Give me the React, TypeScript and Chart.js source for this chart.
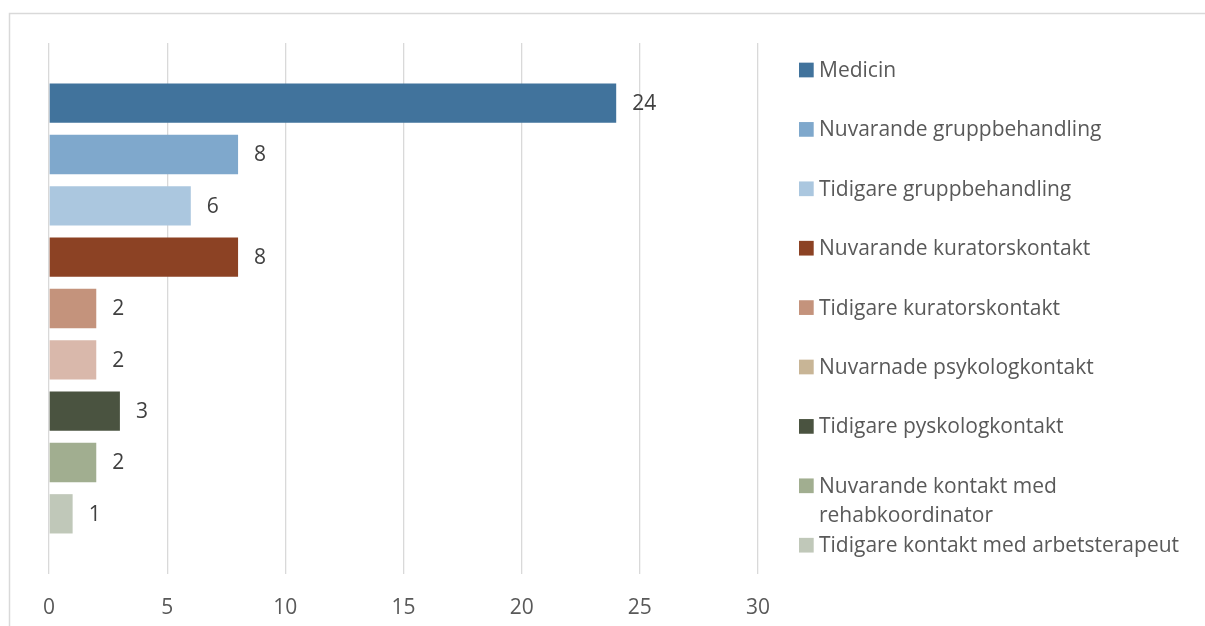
import React, { useEffect, useRef } from 'react';
import { Chart, registerables } from 'chart.js';

Chart.register(...registerables);

const categories = [''];
const seriesNames = [
  'Medicin',
  'Nuvarande gruppbehandling',
  'Tidigare gruppbehandling',
  'Nuvarande kuratorskontakt',
  'Tidigare kuratorskontakt',
  'Nuvarnade psykologkontakt',
  'Tidigare pyskologkontakt',
  'Nuvarande kontakt med rehabkoordinator',
  'Tidigare kontakt med arbetsterapeut',
];
const seriesValues = [24, 8, 6, 8, 2, 2, 3, 2, 1];
const barColors = [
  '#41739c',
  '#7fa8cc',
  '#abc7df',
  '#8c4224',
  '#c4937c',
  '#d9b8ab',
  '#4a5340',
  '#a1ae90',
  '#c0c8b9',
];
const legendColors = [
  '#41739c',
  '#7fa8cc',
  '#abc7df',
  '#8c4224',
  '#c4937c',
  '#c8b596',
  '#4a5340',
  '#a1ae90',
  '#c0c8b9',
];
const xMin = 0;
const xMax = 30;
const xStep = 5;

const FONT_FAMILY = "'Open Sans', sans-serif";
const FONT_SIZE = 21;
const TEXT_COLOR = '#595959';
const LABEL_COLOR = '#404040';

const framePlugin = {
  id: 'frame',
  beforeDraw(chart: any) {
    const ctx = chart.ctx;
    ctx.save();
    ctx.fillStyle = '#ffffff';
    ctx.fillRect(0, 0, chart.width, chart.height);
    ctx.strokeStyle = '#d9d9d9';
    ctx.lineWidth = 1.5;
    ctx.strokeRect(9.5, 13.5, chart.width + 20, chart.height + 20);
    ctx.restore();
  },
};

const valueLabelPlugin = {
  id: 'valueLabels',
  afterDatasetsDraw(chart: any) {
    const ctx = chart.ctx;
    ctx.save();
    ctx.font = `${FONT_SIZE}px ${FONT_FAMILY}`;
    ctx.fillStyle = LABEL_COLOR;
    ctx.textAlign = 'left';
    ctx.textBaseline = 'middle';
    chart.data.datasets.forEach((ds: any, i: number) => {
      const meta = chart.getDatasetMeta(i);
      meta.data.forEach((el: any, j: number) => {
        ctx.fillText(String(ds.data[j]), el.x + 16, el.y + 1);
      });
    });
    ctx.restore();
  },
};

const legendPlugin = {
  id: 'customLegend',
  afterDraw(chart: any) {
    const ctx = chart.ctx;
    const boxX = 799;
    const textX = 819;
    const top = 70;
    const step = 59.4;
    const lineH = 29.7;
    const box = 14.7;
    const maxW = 1200 - textX;
    ctx.save();
    ctx.font = `${FONT_SIZE}px ${FONT_FAMILY}`;
    ctx.textBaseline = 'middle';
    ctx.textAlign = 'left';
    chart.data.datasets.forEach((ds: any, i: number) => {
      const y = top + i * step;
      ctx.fillStyle = legendColors[i];
      ctx.fillRect(boxX, y - box / 2, box, box);
      const words = String(ds.label).split(' ');
      const lines: string[] = [];
      let cur = '';
      words.forEach((w) => {
        const t = cur ? cur + ' ' + w : w;
        if (ctx.measureText(t).width > maxW && cur) {
          lines.push(cur);
          cur = w;
        } else {
          cur = t;
        }
      });
      if (cur) lines.push(cur);
      ctx.fillStyle = TEXT_COLOR;
      lines.forEach((ln, k) => ctx.fillText(ln, textX, y + 1 + k * lineH));
    });
    ctx.restore();
  },
};

export default function App() {
  const ref = useRef<HTMLCanvasElement | null>(null);
  useEffect(() => {
    if (!ref.current) return;
    const chart = new Chart(ref.current, {
      type: 'bar',
      data: {
        labels: categories,
        datasets: seriesNames.map((name, i) => ({
          label: name,
          data: [seriesValues[i]],
          backgroundColor: barColors[i],
          borderWidth: 0,
          categoryPercentage: 0.87,
          barPercentage: 0.766,
        })),
      },
      options: {
        indexAxis: 'y',
        animation: false,
        responsive: false,
        maintainAspectRatio: false,
        layout: { padding: { left: 49, right: 447, top: 43, bottom: 3 } },
        plugins: {
          legend: { display: false },
          tooltip: { enabled: false },
        },
        scales: {
          y: { type: 'category', display: false },
          x: {
            type: 'linear',
            min: xMin,
            max: xMax,
            grid: {
              color: '#d9d9d9',
              lineWidth: 1.3,
              drawTicks: true,
              tickLength: 19.8,
              tickColor: 'rgba(0,0,0,0)',
            },
            border: { display: false },
            ticks: {
              stepSize: xStep,
              padding: 2,
              color: TEXT_COLOR,
              font: { family: FONT_FAMILY, size: FONT_SIZE },
            },
          },
        },
      },
      plugins: [framePlugin, valueLabelPlugin, legendPlugin],
    });
    return () => chart.destroy();
  }, []);
  return (
    <div style={{ position: 'absolute', left: 0, top: 0, width: 1205, height: 626 }}>
      <canvas ref={ref} width={1205} height={626} />
    </div>
  );
}
